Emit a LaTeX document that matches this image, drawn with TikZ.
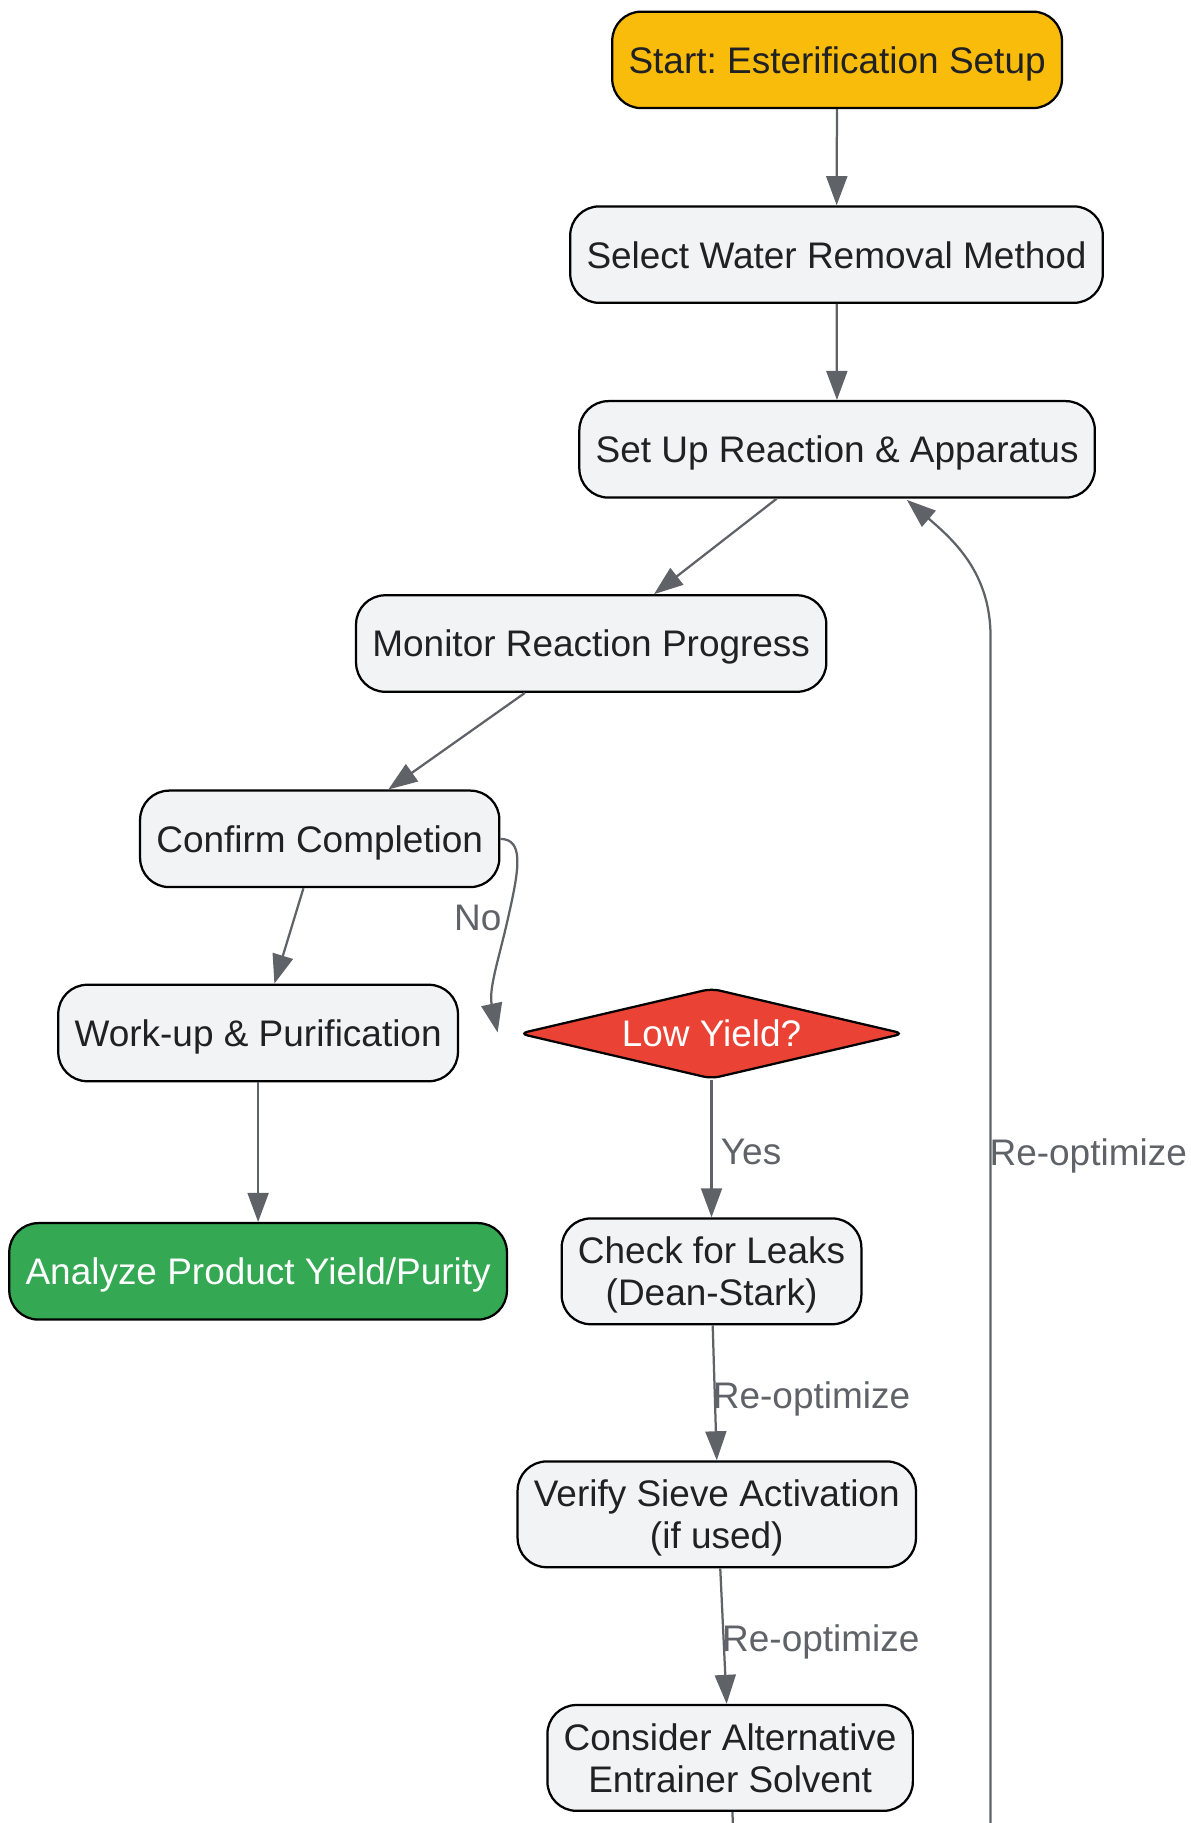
\documentclass[tikz,border=0pt]{standalone}
\usepackage{fontspec}
\setsansfont{Liberation Sans}
\usepackage{tikz}
\usetikzlibrary{arrows.meta, shapes.geometric, calc}
\tikzset{every picture/.style={/utils/exec={\sffamily\frenchspacing}}}
\definecolor{startc}{HTML}{F9BC0A}
\definecolor{stepc}{HTML}{F1F3F4}
\definecolor{lowc}{HTML}{EA4335}
\definecolor{donec}{HTML}{34A853}
\definecolor{edgec}{HTML}{5F6368}
\definecolor{inkc}{HTML}{202124}

\begin{document}
\begin{tikzpicture}[x=0.02cm, y=-0.02cm,
		stepbox/.style={draw=black, line width=1.1pt, fill=stepc, text=inkc, rounded corners=0.5cm, minimum height=1.66cm, inner xsep=0.28cm, text depth=0pt, align=center, font=\fontsize{18.1pt}{20.5pt}\selectfont},
		twoline/.style={minimum height=1.82cm},
		askbox/.style={draw=black, line width=1.1pt, fill=lowc, text=white, diamond, aspect=4.2, minimum width=6.62cm, minimum height=1.56cm, inner sep=0pt, rounded corners=4pt, font=\fontsize{18.1pt}{20.5pt}\selectfont},
		edge/.style={draw=edgec, line width=1.1pt, -{Triangle[length=0.5cm, width=0.36cm]}},
		lbl/.style={text=edgec, inner sep=0pt, text depth=0pt, font=\fontsize{18.1pt}{20.5pt}\selectfont}]
		\useasboundingbox (0, 0) rectangle (1024, 1568);

		\node[stepbox, fill=startc] (start) at (720, 51.5) {Start: Esterification Setup};
		\node[stepbox] (select) at (719.5, 219) {Select Water Removal Method};
		\node[stepbox] (setup) at (720, 386.5) {Set Up Reaction \& Apparatus};
		\node[stepbox] (monitor) at (508.5, 553.5) {Monitor Reaction Progress};
		\node[stepbox] (confirm) at (275, 721.5) {Confirm Completion};
		\node[stepbox] (workup) at (222, 888.5) {Work-up \& Purification};
		\node[stepbox, fill=donec, text=white] (analyze) at (222, 1093.5) {Analyze Product Yield/Purity};

		\node[askbox] (low) at (612, 889) {Low Yield?};
		\node[stepbox, twoline] (leaks) at (612, 1093.5) {Check for Leaks\\(Dean-Stark)};
		\node[stepbox, twoline] (sieve) at (616.5, 1302.5) {Verify Sieve Activation\\(if used)};
		\node[stepbox, twoline] (solvent) at (628, 1512) {Consider Alternative\\Entrainer Solvent};

		\coordinate (noend) at (428, 888);

		\draw[edge] (start) -- (select);
		\draw[edge] (select) -- (setup);
		\draw[edge] ($(setup.south)+(-52,0)$) -- ($(monitor.north)+(54,0)$);
		\draw[edge] ($(monitor.south)+(-57,0)$) -- ($(confirm.north)+(59,0)$);
		\draw[edge] ($(confirm.south)+(-14,0)$) -- ($(workup.north)+(14,0)$);
		\draw[edge] (workup) -- (analyze);

		\draw[edge] (confirm.east) .. controls (450, 722) and (447, 745) .. (438, 785) .. controls (430, 822) and (420, 850) .. (noend);
		\draw[edge] (low.south) -- (leaks.north);
		\draw[edge] ($(leaks.south)+(1,0)$) -- ($(sieve.north)+(0,0)$);
		\draw[edge] ($(sieve.south)+(3,0)$) -- ($(solvent.north)+(-3,0)$);
		\draw[edge] ($(solvent.south)+(2,0)$) -- (632, 1620) -- (852, 1620) -- (852, 548) .. controls (852, 494) and (822, 466) .. ($(setup.south)+(60,1)$);

		\node[lbl] (lno) at (411, 789) {No};
		\node[lbl] (lyes) at (646, 991) {Yes};
		\node[lbl] (lre1) at (698, 1200) {Re-optimize};
		\node[lbl] (lre2) at (706, 1409) {Re-optimize};
		\node[lbl] (lre3) at (936, 991) {Re-optimize};
	\end{tikzpicture}
\end{document}
